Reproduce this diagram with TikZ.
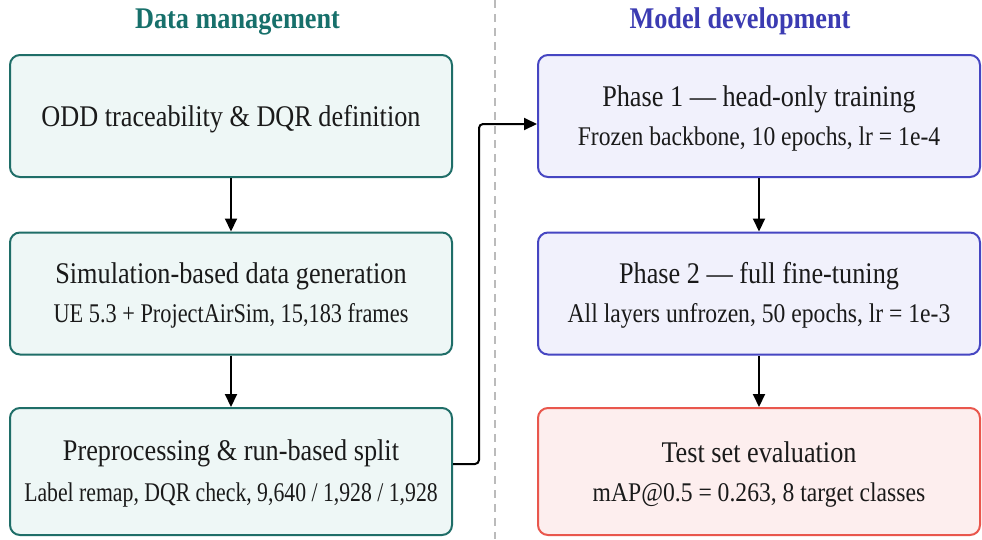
\documentclass[tikz,border=0pt]{standalone}
\usepackage{fontspec}
\setmainfont[FakeStretch=0.875]{Liberation Serif}
\usetikzlibrary{arrows.meta,calc}

% condense a run of text horizontally (figure-heavy lines)
\newcommand\narrowed[2]{\scalebox{#1}[1]{#2}}

\definecolor{dmline}{HTML}{1F6E68}
\definecolor{dmfill}{HTML}{EEF7F6}
\definecolor{dmhead}{HTML}{17706B}
\definecolor{mdline}{HTML}{4646C2}
\definecolor{mdfill}{HTML}{F1F1FC}
\definecolor{mdhead}{HTML}{3B3BB2}
\definecolor{evline}{HTML}{E9574D}
\definecolor{evfill}{HTML}{FDEEEE}
\definecolor{ink}{HTML}{1A1A1A}
\definecolor{divgray}{HTML}{BBBBBB}

\tikzset{
  stagebox/.style={draw, rounded corners=10pt, line width=2pt,
    minimum width=442pt, minimum height=122pt, inner sep=0pt},
  dmbox/.style={stagebox, draw=dmline, fill=dmfill},
  mdbox/.style={stagebox, draw=mdline, fill=mdfill},
  evbox/.style={stagebox, draw=evline, fill=evfill},
  maintext/.style={anchor=base, inner sep=0pt, text=ink, font=\fontsize{30}{34}\selectfont},
  subtext/.style={anchor=base, inner sep=0pt, text=ink, font=\fontsize{27}{31}\selectfont},
  colhead/.style={anchor=base, inner sep=0pt, font=\fontsize{30}{34}\selectfont\bfseries},
  flow/.style={draw=black, line width=2pt, -{Triangle[length=13pt,width=12pt]}},
  divider/.style={draw=divgray, line width=1.3pt, dash pattern=on 8pt off 6pt}
}

\begin{document}
\begin{tikzpicture}[x=1pt,y=-1pt]
\useasboundingbox (0,0) rectangle (982,539);
\fill[white] (0,0) rectangle (982,539);

% column divider
\draw[divider] (495,0) -- (495,539);

% column headings
\node[colhead, text=dmhead] (hdm) at (237.5,28) {Data management};
\node[colhead, text=mdhead] (hmd) at (740,28) {Model development};

% data management column
\node[dmbox] (l1) at (231,116) {};
\node[dmbox] (l2) at (231,293.5) {};
\node[dmbox, minimum height=127pt] (l3) at (231,471.5) {};

\node[maintext] (l1t) at ($(l1.center)+(0,10)$) {ODD traceability \& DQR definition};
\node[maintext] (l2t) at ($(l2.center)+(0,-10.5)$) {Simulation-based data generation};
\node[subtext]  (l2s) at ($(l2.center)+(0,28.5)$) {\narrowed{0.945}{UE 5.3 + ProjectAirSim, 15,183 frames}};
\node[maintext] (l3t) at ($(l3.center)+(0,-11)$) {Preprocessing \& run-based split};
\node[subtext]  (l3s) at ($(l3.center)+(0,29.5)$) {\narrowed{0.92}{Label remap, DQR check, 9,640 / 1,928 / 1,928}};

% model development column
\node[mdbox] (r1) at (759,116) {};
\node[mdbox] (r2) at (759,293.5) {};
\node[evbox, minimum height=127pt] (r3) at (759,471.5) {};

\node[maintext] (r1t) at ($(r1.center)+(0,-9.5)$) {Phase 1 — head-only training};
\node[subtext]  (r1s) at ($(r1.center)+(0,29.5)$) {Frozen backbone, 10 epochs, lr = 1e-4};
\node[maintext] (r2t) at ($(r2.center)+(0,-10.5)$) {Phase 2 — full fine-tuning};
\node[subtext]  (r2s) at ($(r2.center)+(0,28.5)$) {All layers unfrozen, 50 epochs, lr = 1e-3};
\node[maintext] (r3t) at ($(r3.center)+(0,-9.5)$) {Test set evaluation};
\node[subtext]  (r3s) at ($(r3.center)+(0,29.5)$) {mAP@0.5 = 0.263, 8 target classes};

% connectors
\draw[flow] (l1) -- (l2);
\draw[flow] (l2) -- (l3);
\draw[flow] (r1) -- (r2);
\draw[flow] (r2) -- (r3);
\draw[flow, rounded corners=4pt] ($(l3.east)+(0,-7.5)$) -- ++(26,0) |- ($(r1.west)+(0,8)$);
\end{tikzpicture}
\end{document}
